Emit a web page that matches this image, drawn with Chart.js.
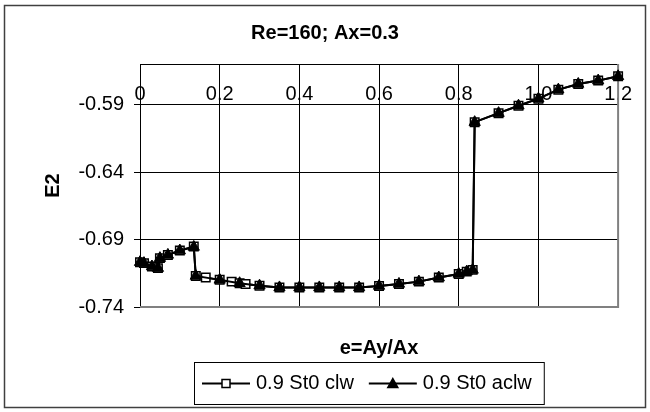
<!DOCTYPE html>
<html>
<head>
<meta charset="utf-8">
<script src="https://cdn.jsdelivr.net/npm/chart.js@4.4.1/dist/chart.umd.min.js"></script>
<style>
  html, body { margin: 0; padding: 0; background: #fff; }
  canvas { display: block; }
</style>
</head>
<body>
<canvas id="chart" width="650" height="412"></canvas>
<script>
// e = Ay/Ax and E2 for the clockwise run
const clwE = [0, 0.01, 0.03, 0.045, 0.05, 0.07, 0.1, 0.135, 0.14, 0.165, 0.2, 0.23, 0.25, 0.265,
  0.3, 0.35, 0.4, 0.45, 0.5, 0.55, 0.6, 0.65, 0.7, 0.75, 0.8, 0.82, 0.835, 0.84,
  0.9, 0.95, 1.0, 1.05, 1.1, 1.15, 1.2];
const clwE2 = [-0.7068, -0.7075, -0.7100, -0.7112, -0.7038, -0.7014, -0.6982, -0.6952, -0.7170, -0.7182, -0.7199, -0.7212, -0.7224, -0.7229,
  -0.7242, -0.7255, -0.7255, -0.7255, -0.7255, -0.7255, -0.7244, -0.7229, -0.7212, -0.7182, -0.7155, -0.7138, -0.7125, -0.6031,
  -0.5964, -0.5909, -0.5857, -0.5790, -0.5748, -0.5723, -0.5691];

// anticlockwise run
const aclwE = [0, 0.01, 0.03, 0.045, 0.05, 0.07, 0.1, 0.135, 0.14, 0.2, 0.25,
  0.3, 0.35, 0.4, 0.45, 0.5, 0.55, 0.6, 0.65, 0.7, 0.75, 0.8, 0.82, 0.835, 0.84,
  0.9, 0.95, 1.0, 1.05, 1.1, 1.15, 1.2];
const aclwE2 = [-0.7068, -0.7075, -0.7100, -0.7112, -0.7038, -0.7014, -0.6982, -0.6955, -0.7170, -0.7199, -0.7224,
  -0.7242, -0.7255, -0.7255, -0.7255, -0.7255, -0.7255, -0.7244, -0.7229, -0.7212, -0.7182, -0.7155, -0.7138, -0.7125, -0.6031,
  -0.5964, -0.5909, -0.5857, -0.5790, -0.5748, -0.5723, -0.5691];

const yTicks = [-0.74, -0.69, -0.64, -0.59];
const seriesLabels = ['0.9 St0 clw', '0.9 St0 aclw'];

const FONT = '"Liberation Sans", Arial, sans-serif';
Chart.defaults.font.family = FONT;
Chart.defaults.font.size = 20;
Chart.defaults.color = '#000';

const toPoints = (xs, ys) => xs.map((x, i) => ({ x, y: ys[i] }));

// white page + outer frame, grey plot border on right/bottom
const frame = {
  id: 'frame',
  beforeDraw(chart) {
    const ctx = chart.ctx;
    ctx.save();
    ctx.fillStyle = '#fff';
    ctx.fillRect(0, 0, chart.width, chart.height);
    ctx.strokeStyle = '#404040';
    ctx.lineWidth = 1.5;
    ctx.strokeRect(4.5, 5.5, 641, 402);
    ctx.restore();
  },
  beforeDatasetsDraw(chart) {
    const { ctx, chartArea: a } = chart;
    ctx.save();
    ctx.strokeStyle = '#808080';
    ctx.lineWidth = 2;
    ctx.beginPath();
    ctx.moveTo(a.right, a.top);
    ctx.lineTo(a.right, a.bottom);
    ctx.lineTo(a.left, a.bottom);
    ctx.stroke();
    ctx.restore();
  }
};

// boxed legend under the x axis title
const boxLegend = {
  id: 'boxLegend',
  afterDraw(chart) {
    const ctx = chart.ctx;
    const sets = chart.data.datasets;
    ctx.save();
    ctx.font = '20px ' + FONT;
    const widths = sets.map(d => ctx.measureText(d.label).width);
    const left = 194, top = 362, h = 42;
    const w = 8 + 54 + widths[0] + 15 + 54 + widths[1] + 12;
    ctx.strokeStyle = '#000';
    ctx.lineWidth = 1;
    ctx.strokeRect(left + 0.5, top + 0.5, w, h);
    const y = top + h / 2 + 0.5;
    let x = left + 8;
    sets.forEach((d, i) => {
      ctx.strokeStyle = '#000';
      ctx.lineWidth = 2;
      ctx.beginPath();
      ctx.moveTo(x, y);
      ctx.lineTo(x + 48, y);
      ctx.stroke();
      const cx = x + 24;
      ctx.lineWidth = 1.5;
      ctx.beginPath();
      if (d.pointStyle === 'rect') {
        ctx.rect(cx - 4, y - 4, 8, 8);
        ctx.fillStyle = '#fff';
      } else {
        ctx.moveTo(cx, y - 5);
        ctx.lineTo(cx + 5, y + 4);
        ctx.lineTo(cx - 5, y + 4);
        ctx.closePath();
        ctx.fillStyle = '#000';
      }
      ctx.fill();
      ctx.stroke();
      ctx.fillStyle = '#000';
      ctx.textBaseline = 'middle';
      ctx.fillText(d.label, x + 54, y);
      x += 54 + widths[i] + 15;
    });
    ctx.restore();
  }
};

new Chart(document.getElementById('chart'), {
  type: 'line',
  data: {
    datasets: [
      {
        label: seriesLabels[0],
        data: toPoints(clwE, clwE2),
        borderColor: '#000',
        borderWidth: 2,
        pointStyle: 'rect',
        pointRadius: 6,
        pointBorderWidth: 1.5,
        pointBackgroundColor: '#fff',
        pointBorderColor: '#000',
        order: 1,
        clip: false
      },
      {
        label: seriesLabels[1],
        data: toPoints(aclwE, aclwE2),
        borderColor: '#000',
        borderWidth: 2,
        pointStyle: 'triangle',
        pointRadius: 6.5,
        pointBorderWidth: 1,
        pointBackgroundColor: '#000',
        pointBorderColor: '#000',
        order: 0,
        clip: false
      }
    ]
  },
  options: {
    responsive: false,
    animation: false,
    events: [],
    layout: { padding: { left: 25, right: 25, top: 0, bottom: 52 } },
    plugins: {
      legend: { display: false },
      tooltip: { enabled: false },
      title: {
        display: true,
        text: 'Re=160; Ax=0.3',
        font: { size: 20, weight: 'bold' },
        color: '#000',
        padding: { top: 21, bottom: 19 }
      },
      subtitle: {
        display: true,
        position: 'bottom',
        fullSize: false,
        text: 'e=Ay/Ax',
        font: { size: 20, weight: 'bold' },
        color: '#000',
        padding: { top: 29, bottom: 0 }
      }
    },
    scales: {
      x: {
        type: 'linear',
        position: { y: -0.56 },
        min: 0,
        max: 1.2,
        ticks: { stepSize: 0.2, padding: 18, color: '#000', maxRotation: 0 },
        grid: { color: '#000', drawTicks: false },
        border: { color: '#000', width: 1 }
      },
      y: {
        type: 'linear',
        position: 'left',
        min: -0.74,
        max: -0.56,
        afterBuildTicks: s => { s.ticks = yTicks.map(v => ({ value: v })); },
        afterFit: s => { s.width = 115; },
        ticks: { padding: 10, color: '#000', callback: v => v.toFixed(2) },
        grid: { color: '#000', tickLength: 6 },
        border: { color: '#000', width: 1 },
        title: {
          display: true,
          text: 'E2',
          font: { size: 20, weight: 'bold' },
          color: '#000',
          padding: { top: 16, bottom: 0 }
        }
      }
    }
  },
  plugins: [frame, boxLegend]
});
</script>
</body>
</html>
